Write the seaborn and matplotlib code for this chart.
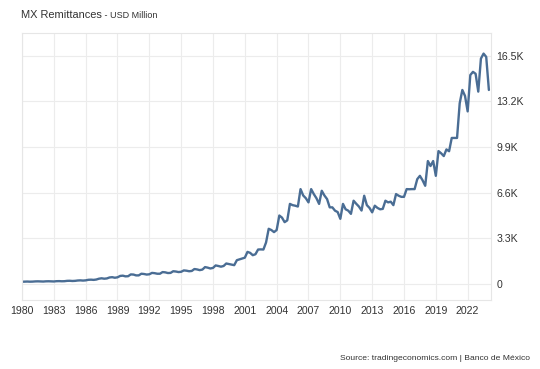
import numpy as np
import pandas as pd
import seaborn as sns
import matplotlib
matplotlib.use("Agg")
import matplotlib.pyplot as plt
from matplotlib.ticker import FixedLocator

# quarterly remittances, USD million (Q1..Q4 per row), 1980Q1 - 2024Q1
remittances = [
    160, 170, 175, 165,      # 1980
    170, 185, 190, 180,      # 1981
    175, 190, 195, 185,      # 1982
    180, 200, 205, 195,      # 1983
    200, 225, 230, 215,      # 1984
    225, 250, 260, 245,      # 1985
    260, 300, 310, 295,      # 1986
    320, 380, 410, 380,      # 1987
    400, 470, 490, 450,      # 1988
    480, 580, 600, 550,      # 1989
    560, 690, 680, 620,      # 1990
    620, 740, 720, 680,      # 1991
    700, 800, 780, 740,      # 1992
    740, 860, 840, 790,      # 1993
    800, 920, 900, 860,      # 1994
    880, 980, 960, 920,      # 1995
    940, 1080, 1050, 1000,   # 1996
    1040, 1220, 1180, 1120,  # 1997
    1160, 1340, 1300, 1250,  # 1998
    1300, 1480, 1440, 1400,  # 1999
    1360, 1720, 1780, 1840,  # 2000
    1900, 2320, 2250, 2080,  # 2001
    2150, 2490, 2500, 2490,  # 2002
    3000, 3990, 3900, 3750,  # 2003
    3900, 4950, 4800, 4470,  # 2004
    4600, 5790, 5700, 5660,  # 2005
    5600, 6860, 6400, 6200,  # 2006
    5900, 6860, 6500, 6200,  # 2007
    5790, 6740, 6400, 6140,  # 2008
    5540, 5540, 5300, 5200,  # 2009
    4710, 5790, 5400, 5300,  # 2010
    5070, 6020, 5800, 5600,  # 2011
    5310, 6380, 5700, 5500,  # 2012
    5180, 5660, 5500, 5400,  # 2013
    5430, 6020, 5900, 5950,  # 2014
    5700, 6500, 6380, 6300,  # 2015
    6300, 6860, 6850, 6860,  # 2016
    6860, 7580, 7820, 7500,  # 2017
    7100, 8890, 8530, 8890,  # 2018
    7820, 9610, 9450, 9250,  # 2019
    9730, 9600, 10560, 10560,    # 2020
    10560, 13070, 14030, 13600,  # 2021
    12480, 15110, 15340, 15200,  # 2022
    13910, 16300, 16660, 16420,  # 2023
    14030,                       # 2024
]

quarters = pd.period_range("1980Q1", periods=len(remittances), freq="Q")
year_ticks = list(range(1980, 2023, 3))
value_ticks = [0, 3300, 6600, 9900, 13200, 16500]
value_labels = ["0", "3.3K", "6.6K", "9.9K", "13.2K", "16.5K"]

df = pd.DataFrame({
    "time": quarters.year + (quarters.quarter - 1) / 4,
    "value": remittances,
})

sns.set_style("white")
plt.rcParams["font.family"] = ["Liberation Sans", "DejaVu Sans"]

fig = plt.figure(figsize=(5.4, 3.69), dpi=100)
ax = fig.add_axes([22 / 540, 1 - 300 / 369, 469 / 540, 267 / 369])

sns.lineplot(data=df, x="time", y="value", ax=ax, color="#4a6d94",
             linewidth=1.7, solid_joinstyle="round", solid_capstyle="round")

ax.set_xlim(1980, 2024.2)
ax.set_ylim(-1160, 18150)
ax.xaxis.set_major_locator(FixedLocator(year_ticks))
ax.set_xticklabels([str(y) for y in year_ticks])
ax.yaxis.set_major_locator(FixedLocator(value_ticks))
ax.set_yticklabels(value_labels)
ax.yaxis.tick_right()
ax.tick_params(axis="both", length=0, labelsize=7.6, colors="#333333")
ax.tick_params(axis="x", pad=4)
ax.tick_params(axis="y", pad=4)
ax.set_xlabel("")
ax.set_ylabel("")
ax.grid(True, color="#ececec", linewidth=0.8)
for side in ["left", "right", "top", "bottom"]:
    ax.spines[side].set_color("#e6e6e6")
    ax.spines[side].set_linewidth(0.8)

title = fig.text(21 / 540, 1 - 18.5 / 369, "MX Remittances", fontsize=7.9,
                 color="#333333", va="baseline", ha="left")
fig.canvas.draw()
ax.annotate(" - USD Million", xy=(1, 0), xycoords=title, fontsize=6.5,
            color="#333333", va="bottom", ha="left")
fig.text(530 / 540, 1 - 359 / 369,
         "Source: tradingeconomics.com | Banco de México",
         fontsize=6.1, color="#333333", va="center", ha="right")

fig.savefig("out.png", dpi=100)
